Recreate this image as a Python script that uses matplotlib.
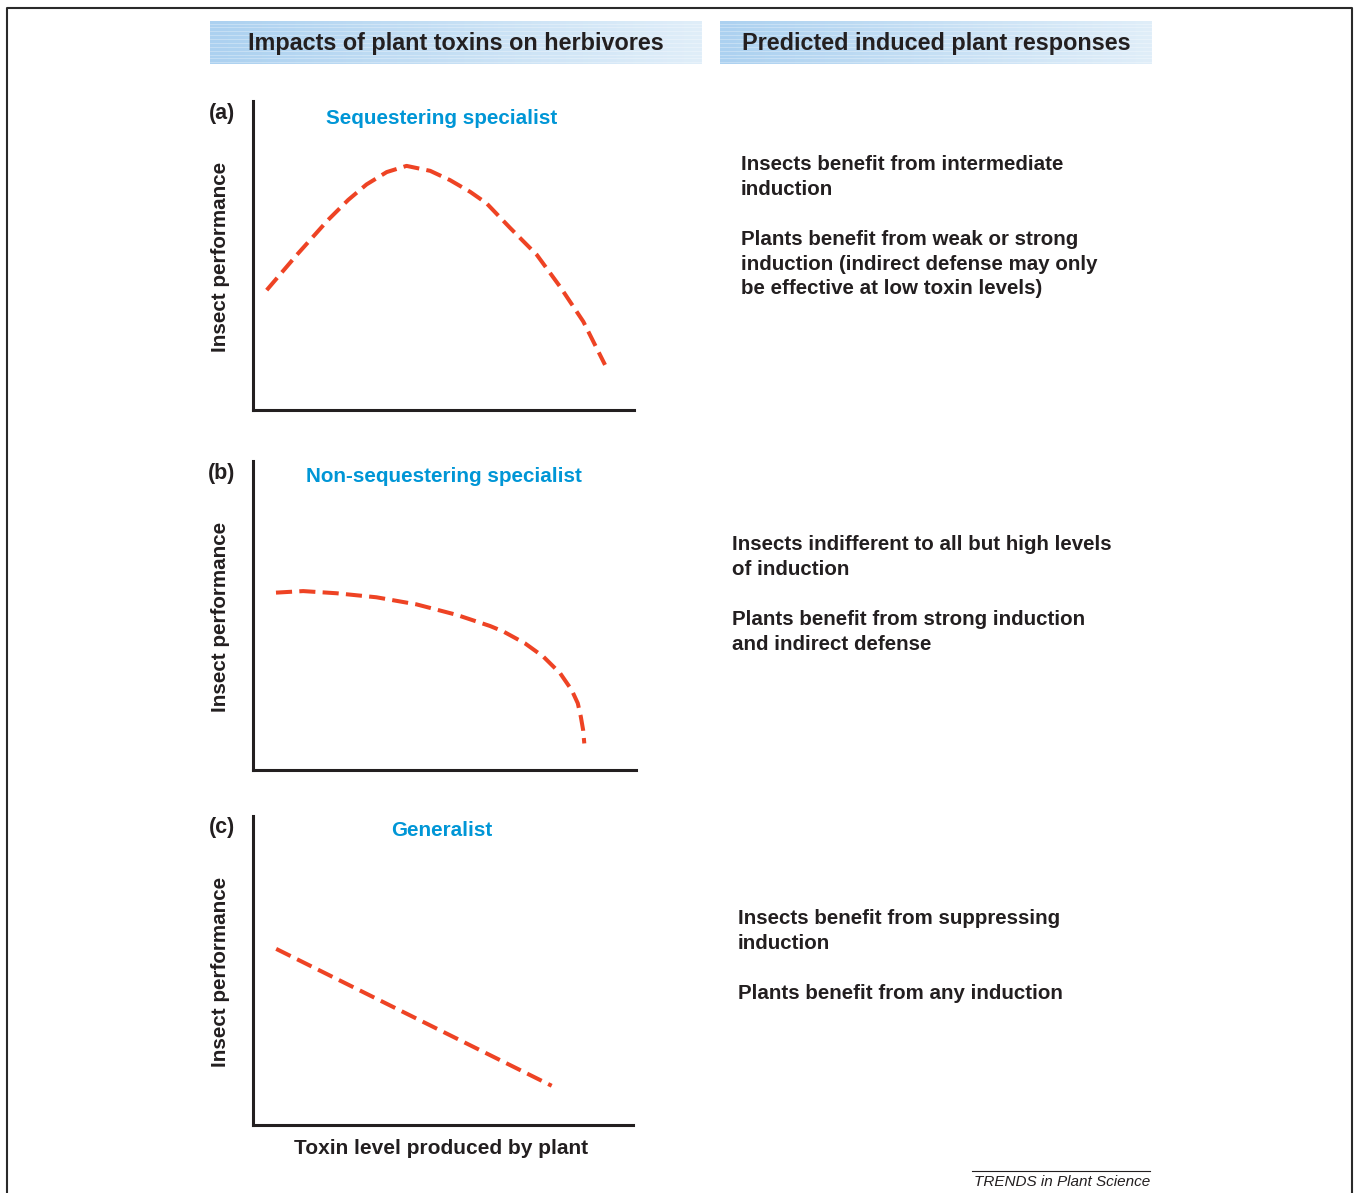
import numpy as np
import matplotlib.pyplot as plt
from matplotlib.colors import LinearSegmentedColormap

plt.rcParams['font.family'] = ['Liberation Sans', 'DejaVu Sans']

W, H = 1354, 1193

# curve data, toxin level (0-10) vs insect performance (0-10)
seq_x = [0.36, 1.15, 1.97, 2.50, 2.98, 3.51, 4.03, 4.65, 5.17, 5.70, 6.13,
         6.75, 7.45, 8.06, 8.67, 9.24]
seq_y = [3.88, 5.02, 6.15, 6.80, 7.30, 7.70, 7.90, 7.74, 7.44, 7.06, 6.69,
         5.89, 5.02, 3.99, 2.86, 1.46]

nonseq_x = [0.60, 1.31, 2.18, 3.22, 4.27, 5.32, 6.19, 6.54, 7.10, 7.58, 8.02,
            8.32, 8.48, 8.56, 8.62, 8.65]
nonseq_y = [5.74, 5.79, 5.72, 5.59, 5.36, 5.02, 4.66, 4.48, 4.10, 3.67, 3.13,
            2.59, 2.16, 1.72, 1.29, 0.86]

gen_x = [0.61, 7.86]
gen_y = [5.70, 1.27]

panel_labels = ['(a)', '(b)', '(c)']
panel_titles = ['Sequestering specialist', 'Non-sequestering specialist', 'Generalist']
headers = ['Impacts of plant toxins on herbivores', 'Predicted induced plant responses']

responses = [
    ['Insects benefit from intermediate', 'induction', '',
     'Plants benefit from weak or strong', 'induction (indirect defense may only',
     'be effective at low toxin levels)'],
    ['Insects indifferent to all but high levels', 'of induction', '',
     'Plants benefit from strong induction', 'and indirect defense'],
    ['Insects benefit from suppressing', 'induction', '',
     'Plants benefit from any induction'],
]

dark = '#231f20'
blue = '#0096d6'
red = '#ee4324'

fig = plt.figure(figsize=(W / 100, H / 100), dpi=100)


def fx(px):
    return px / W


def fy(py):
    return 1 - py / H


# page frame (top, left, right)
fig.add_artist(plt.Line2D([fx(7), fx(7), fx(1352), fx(1352)],
                          [fy(1193), fy(8), fy(8), fy(1193)],
                          color='#2a2a2a', lw=1.5))

# header bars with a blue gradient and faint stripes
grad = np.linspace(0, 1, 256).reshape(1, -1)
cmap = LinearSegmentedColormap.from_list('hdr', ['#acd1f0', '#e0eef9'])
for (x0, x1), text in zip([(210, 702), (720, 1152)], headers):
    hax = fig.add_axes([fx(x0), fy(64), fx(x1 - x0), (64 - 21) / H])
    hax.imshow(grad, aspect='auto', cmap=cmap, extent=[0, 1, 0, 1])
    for yy in np.arange(0.04, 1, 0.09):
        hax.axhline(yy, color='white', lw=0.6, alpha=0.35)
    hax.set_xlim(0, 1)
    hax.set_ylim(0, 1)
    hax.set_axis_off()
    hax.text(0.5, 0.47, text, ha='center', va='center', fontsize=16.8,
             fontweight='bold', color=dark)

# panel axes in pixel boxes: left, top, right, bottom
boxes = [(253, 101, 634, 410), (253, 461, 636, 770), (253, 816, 633, 1125)]
series = [(seq_x, seq_y), (nonseq_x, nonseq_y), (gen_x, gen_y)]
title_pos = [(442, 119), (444, 477), (442, 831)]
resp_pos = [(741, 165), (732, 545), (738, 919)]

for i, ((l, t, r, b), (xs, ys)) in enumerate(zip(boxes, series)):
    ax = fig.add_axes([fx(l), fy(b), fx(r - l), (b - t) / H])
    ax.plot(xs, ys, color=red, lw=2.9, dashes=(4.0, 1.8),
            solid_joinstyle='round')
    ax.set_xlim(0, 10)
    ax.set_ylim(0, 10)
    ax.set_xticks([])
    ax.set_yticks([])
    for s in ['top', 'right']:
        ax.spines[s].set_visible(False)
    for s in ['left', 'bottom']:
        ax.spines[s].set_linewidth(2.2)
        ax.spines[s].set_color(dark)
    ax.patch.set_alpha(0)

    fig.text(fx(222), fy(t + 12), panel_labels[i], ha='center', va='center',
             fontsize=15.5, fontweight='bold', color=dark)
    fig.text(fx(title_pos[i][0]), fy(title_pos[i][1]), panel_titles[i],
             ha='center', va='center', fontsize=14.9, fontweight='bold', color=blue)
    fig.text(fx(221), fy((t + b) / 2 + 1), 'Insect performance', rotation=90,
             ha='center', va='center', fontsize=14.9, fontweight='bold', color=dark)

    rx, ry = resp_pos[i]
    for k, line in enumerate(responses[i]):
        if line:
            fig.text(fx(rx), fy(ry + k * 24.8), line, ha='left', va='center',
                     fontsize=14.8, fontweight='bold', color=dark)

fig.text(fx(441), fy(1148), 'Toxin level produced by plant', ha='center',
         va='center', fontsize=15, fontweight='bold', color=dark)

# journal footer
fig.add_artist(plt.Line2D([fx(972), fx(1150)], [fy(1171), fy(1171)],
                          color=dark, lw=0.8))
fig.text(fx(1150), fy(1182), 'TRENDS in Plant Science', ha='right', va='center',
         fontsize=11, fontstyle='italic', color=dark)

fig.savefig('out.png', dpi=100)
